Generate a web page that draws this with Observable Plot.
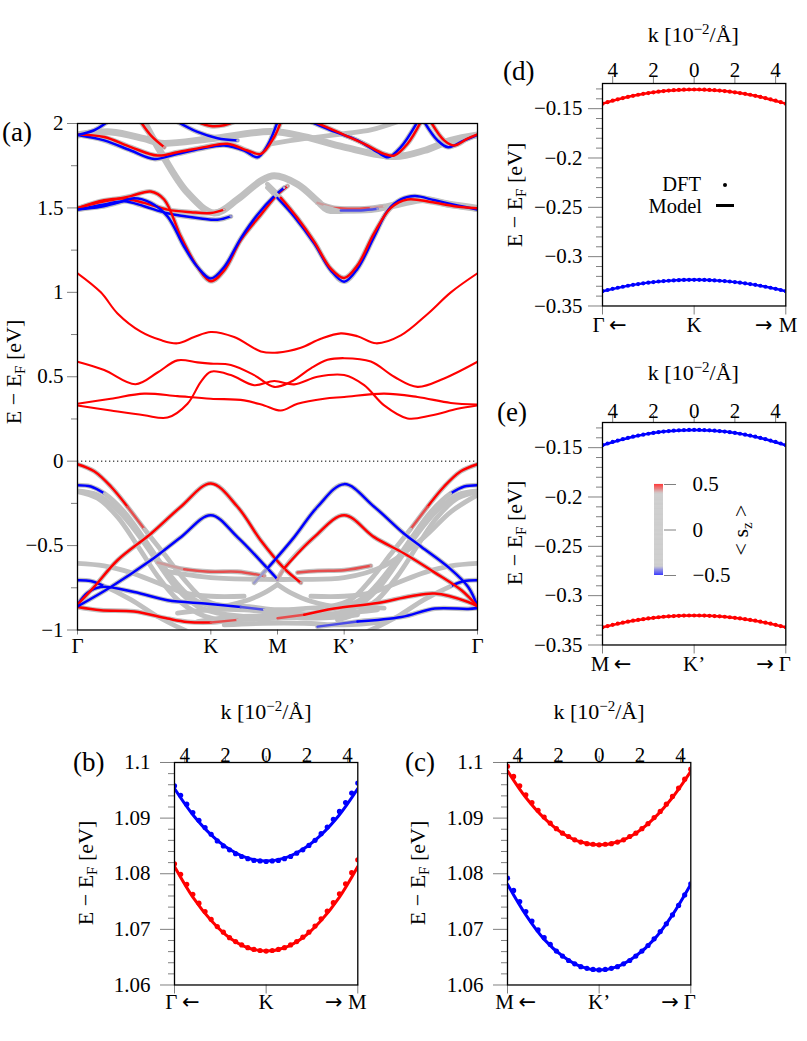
<!DOCTYPE html>
<html>
<head>
<meta charset="utf-8">
<script src="https://cdn.jsdelivr.net/npm/d3@7"></script>
<script src="https://cdn.jsdelivr.net/npm/@observablehq/plot@0.6"></script>
<style>
  body { margin: 0; background: #fff; }
  #fig { position: relative; width: 807px; height: 1041px; overflow: hidden;
         font-family: "Liberation Serif", Tinos, "Times New Roman", serif; color: #000; }
  .lbl { position: absolute; white-space: nowrap; line-height: 1; }
  .lbl sub { font-size: 0.68em; vertical-align: -0.28em; line-height: 0; }
  .lbl sup { font-size: 0.68em; vertical-align: 0.55em; line-height: 0; }
</style>
</head>
<body>
<div id="fig"></div>
<script>
// ---------- colours and shared style ----------
const RED = "#ff0000", BLUE = "#0000ff", GRAY = "#c0c0c0", TICK = "#808080";
const SERIF = '"Liberation Serif", Tinos, "Times New Roman", serif';
const ARROWS = '"DejaVu Sans", sans-serif';
const fmt = d => (d < 0 ? "\u2212" : "") + Math.abs(d);

// spin expectation value <s_z> -> colour
const spinScale = {type: "linear", domain: [-0.5, -0.4, 0.4, 0.5], range: [BLUE, GRAY, GRAY, RED]};

// ---------- (a) band structure along Γ-K-M-K'-Γ ----------
// path coordinate: Γ=0, K=2, M=3, K'=4, Γ=6
const pathTicks = [0, 2, 3, 4, 6];
const pathNames = ["Γ", "K", "M", "K’", "Γ"];
const eMajor = [-1, -0.5, 0, 0.5, 1, 1.5, 2];
const eMinor = [-0.75, -0.25, 0.25, 0.75, 1.25, 1.75];

// lowest conduction bands (spin-up, thin lines): [k, E]
const cb1 = [[0,0.330],[0.5,0.300],[1.0,0.272],[1.35,0.258],[1.65,0.340],[1.85,0.470],[2.0,0.530],[2.3,0.510],[2.65,0.450],[2.95,0.475],[3.25,0.455],[3.6,0.500],[4.0,0.510],[4.3,0.450],[4.6,0.330],[4.95,0.253],[5.3,0.270],[5.7,0.310],[6,0.330]];
const cb2 = [[0,0.340],[0.5,0.370],[1.0,0.400],[1.5,0.385],[2.0,0.370],[2.5,0.360],[2.8,0.330],[3.05,0.300],[3.3,0.340],[3.7,0.370],[4.0,0.380],[4.6,0.400],[5.1,0.380],[5.6,0.345],[6,0.335]];
const cb3 = [[0,0.589],[0.4,0.540],[0.87,0.456],[1.2,0.525],[1.5,0.597],[1.8,0.585],[2.0,0.578],[2.3,0.570],[2.65,0.510],[2.95,0.440],[3.2,0.470],[3.5,0.550],[3.75,0.600],[4.0,0.610],[4.4,0.590],[4.75,0.500],[5.1,0.440],[5.5,0.490],[6,0.589]];
const cb4 = [[0,1.113],[0.35,1.000],[0.6,0.875],[0.95,0.767],[1.25,0.717],[1.5,0.698],[1.75,0.735],[2.0,0.765],[2.35,0.735],[2.75,0.650],[3.0,0.643],[3.35,0.672],[3.65,0.725],[3.95,0.757],[4.2,0.740],[4.48,0.698],[4.85,0.745],[5.26,0.875],[5.6,1.000],[6,1.113]];

// spin-resolved bands: [k, E, <s_z>]
const vTopL = [[0,-0.018,0.5],[0.25,-0.06,0.5],[0.5,-0.15,0.5],[0.75,-0.27,0.46],[1.0,-0.40,0],[1.3,-0.55,0],[1.6,-0.70,0],[1.9,-0.82,0],[2.2,-0.86,0]];
const vTopR = [[6,-0.018,0.5],[5.75,-0.06,0.5],[5.5,-0.15,0.5],[5.25,-0.27,0.46],[5.0,-0.40,0],[4.7,-0.55,0],[4.4,-0.70,0],[4.1,-0.82,0],[3.8,-0.86,0]];
const vKred = [[0,-0.85,0.5],[0.25,-0.745,0.5],[0.6,-0.587,0.5],[1.1,-0.43,0.5],[1.55,-0.27,0.5],[2.0,-0.132,0.5],[2.4,-0.27,0.5],[2.75,-0.47,0.5],[3.1,-0.635,0.5],[3.35,-0.72,0.42]];
const vKblue = [[0,-0.86,-0.5],[0.5,-0.745,-0.5],[1.1,-0.587,-0.5],[1.55,-0.45,-0.5],[2.0,-0.32,-0.5],[2.4,-0.45,-0.5],[2.85,-0.635,-0.5],[3.0,-0.70,-0.42]];
const vKpBlue = [[2.65,-0.72,-0.42],[2.85,-0.635,-0.5],[3.25,-0.45,-0.5],[3.6,-0.27,-0.5],[4.0,-0.136,-0.5],[4.45,-0.27,-0.5],[4.9,-0.43,-0.5],[5.16,-0.508,-0.5],[5.56,-0.627,-0.5],[5.86,-0.745,-0.5],[6,-0.86,-0.5]];
const vKpRed = [[3.0,-0.70,0.42],[3.1,-0.635,0.5],[3.55,-0.45,0.5],[4.0,-0.32,0.5],[4.45,-0.45,0.5],[4.9,-0.547,0.5],[5.36,-0.66,0.5],[5.76,-0.765,0.5],[6,-0.86,0.5]];
const vGa = [[0,-0.142,-0.5],[0.2,-0.15,-0.5],[0.4,-0.19,0],[0.7,-0.30,0],[1.0,-0.46,0],[1.3,-0.63,0],[1.6,-0.77,0],[1.85,-0.84,0],[2.1,-0.86,0],[2.5,-0.83,0],[2.8,-0.78,0],[3.0,-0.73,0]];
const vGb = [[0,-0.176,0],[0.3,-0.20,0],[0.6,-0.29,0],[0.9,-0.43,0],[1.2,-0.60,0],[1.5,-0.76,0],[1.8,-0.86,0],[2.1,-0.90,0],[2.5,-0.92,0],[3.0,-0.93,0]];
const vGc = [[0,-0.18,0],[0.3,-0.22,0],[0.6,-0.33,0],[0.9,-0.50,0],[1.2,-0.68,0],[1.5,-0.82,0],[1.8,-0.90,0],[2.1,-0.94,0]];
const vGaR = [[6,-0.142,-0.5],[5.8,-0.15,-0.5],[5.6,-0.19,0],[5.3,-0.30,0],[5.0,-0.46,0],[4.7,-0.63,0],[4.4,-0.77,0],[4.15,-0.84,0],[3.9,-0.86,0],[3.5,-0.83,0],[3.2,-0.78,0],[3.0,-0.73,0]];
const vGbR = [[6,-0.176,0],[5.7,-0.20,0],[5.4,-0.29,0],[5.1,-0.43,0],[4.8,-0.60,0],[4.5,-0.76,0],[4.2,-0.86,0],[3.9,-0.90,0],[3.5,-0.92,0],[3.0,-0.93,0]];
const vGcR = [[6,-0.18,0],[5.7,-0.22,0],[5.4,-0.33,0],[5.1,-0.50,0],[4.8,-0.68,0],[4.5,-0.82,0],[4.2,-0.90,0],[3.9,-0.94,0]];
const vF1 = [[0,-0.605,0],[0.4,-0.62,0],[0.8,-0.66,0],[1.2,-0.72,0],[1.6,-0.78,0],[2.0,-0.80,0],[2.5,-0.80,0]];
const vF2 = [[1.2,-0.60,0.42],[1.6,-0.64,0.46],[2.0,-0.655,0.46],[2.4,-0.655,0.46],[2.8,-0.68,0.42]];
const vF3 = [[3.3,-0.66,0.46],[3.6,-0.65,0.46],[4.0,-0.646,0.46],[4.4,-0.62,0.42]];
const vF4 = [[1.3,-0.65,0],[2.0,-0.69,0],[2.8,-0.70,0],[3.3,-0.70,0],[4.0,-0.69,0],[4.6,-0.62,0],[5.2,-0.45,0],[5.6,-0.30,0],[6,-0.20,0]];
const vF5 = [[6,-0.605,0],[5.6,-0.62,0],[5.2,-0.66,0],[4.8,-0.72,0],[4.4,-0.78,0],[4.0,-0.80,0],[3.5,-0.80,0]];
const vG70 = [[0,-0.705,-0.5],[0.2,-0.71,-0.5],[0.4,-0.74,0],[0.8,-0.82,0],[1.2,-0.92,0],[1.6,-1.0,0],[1.9,-1.05,0]];
const vG70R = [[6,-0.705,-0.5],[5.8,-0.71,-0.5],[5.6,-0.74,0],[5.2,-0.82,0],[4.8,-0.92,0],[4.4,-1.0,0],[4.1,-1.05,0]];
const vBl1 = [[0,-0.85,-0.5],[0.15,-0.78,-0.5],[0.35,-0.745,-0.5],[0.85,-0.775,-0.5],[1.35,-0.824,-0.5],[1.95,-0.844,-0.5],[2.45,-0.864,-0.46],[2.8,-0.88,0],[3.3,-0.90,0],[3.8,-0.91,0]];
const vRd1 = [[0,-0.864,0.5],[0.35,-0.883,0.5],[0.85,-0.89,0.5],[1.35,-0.932,0.5],[1.65,-0.952,0.5],[2.0,-0.955,0.46],[2.4,-0.94,0],[3.0,-0.93,0.46],[3.4,-0.91,0.5],[3.85,-0.873,0.5],[4.5,-0.84,0.5],[5.0,-0.80,0.5],[5.36,-0.784,0.5],[5.86,-0.834,0.5],[6,-0.86,0.5]];
const vBl2 = [[3.6,-0.98,-0.46],[4.2,-0.95,-0.5],[4.86,-0.923,-0.5],[5.36,-0.873,-0.5],[5.86,-0.875,-0.5],[6,-0.87,-0.5]];
const vGd = [[1.5,-0.90,0],[2.0,-0.88,0],[2.5,-0.88,0],[3.0,-0.90,0],[3.5,-0.91,0],[4.0,-0.90,0],[4.5,-0.88,0]];
const vGe = [[1.8,-0.95,0],[2.4,-0.92,0],[3.0,-0.92,0],[3.6,-0.93,0],[4.2,-0.91,0]];
const vGg = [[2.0,-0.87,0],[2.5,-0.86,0],[3.0,-0.88,0],[3.5,-0.87,0],[4.0,-0.86,0],[4.6,-0.87,0]];
const vGh = [[2.2,-0.97,0],[2.8,-0.96,0],[3.4,-0.96,0],[4.0,-0.97,0],[4.6,-0.95,0]];

const cKred = [[0,1.498,0.5],[0.3,1.53,0.5],[0.55,1.55,0.5],[0.8,1.57,0.5],[1.1,1.597,0.5],[1.3,1.55,0.5],[1.55,1.33,0.5],[1.8,1.15,0.5],[2.0,1.066,0.5],[2.2,1.13,0.5],[2.45,1.31,0.5],[2.75,1.46,0.5],[3.0,1.58,0.5],[3.15,1.63,0]];
const cKblue = [[0,1.49,-0.5],[0.35,1.507,-0.5],[0.6,1.53,-0.5],[0.85,1.557,-0.5],[1.1,1.53,-0.5],[1.35,1.45,-0.5],[1.6,1.27,-0.5],[1.8,1.15,-0.5],[2.0,1.082,-0.5],[2.2,1.15,-0.5],[2.45,1.32,-0.5],[2.7,1.46,-0.5],[2.95,1.57,-0.5],[3.1,1.62,0]];
const cKpBlue = [[2.85,1.62,0],[3.0,1.56,-0.5],[3.25,1.45,-0.5],[3.55,1.29,-0.5],[3.8,1.13,-0.5],[4.0,1.063,-0.5],[4.2,1.14,-0.5],[4.45,1.33,-0.5],[4.66,1.488,-0.5],[4.85,1.55,-0.5],[5.06,1.57,-0.5],[5.36,1.545,-0.5],[5.7,1.515,-0.5],[6,1.49,-0.5]];
const cKpRed = [[2.85,1.64,0],[3.05,1.56,0.5],[3.3,1.44,0.5],[3.55,1.30,0.5],[3.8,1.14,0.5],[4.0,1.085,0.5],[4.2,1.16,0.5],[4.45,1.35,0.5],[4.7,1.50,0.5],[4.95,1.55,0.5],[5.3,1.535,0.5],[5.65,1.51,0.5],[6,1.498,0.5]];
const c15r = [[0,1.498,0.5],[0.4,1.545,0.5],[0.7,1.555,0.5],[1.0,1.53,0.5],[1.35,1.49,0.5],[1.7,1.475,0.5],[2.0,1.47,0.5],[2.2,1.49,0]];
const c15b = [[0,1.49,-0.5],[0.4,1.52,-0.5],[0.7,1.54,-0.5],[1.0,1.51,-0.5],[1.35,1.468,-0.5],[1.85,1.438,-0.5],[2.1,1.43,-0.5],[2.3,1.45,-0.42]];
const c15rR = [[3.6,1.53,0.42],[3.85,1.50,0.46],[4.1,1.495,0.46],[4.4,1.50,0.42],[4.6,1.51,0]];
const c15bR = [[3.7,1.51,0],[3.95,1.485,-0.46],[4.25,1.485,-0.46],[4.5,1.495,-0.42]];
const cTopB1 = [[0,1.932,-0.5],[0.4,1.90,-0.5],[0.8,1.84,-0.5],[1.15,1.79,-0.5],[1.45,1.815,-0.5],[1.85,1.85,-0.5],[2.2,1.87,-0.5],[2.5,1.84,-0.5],[2.7,1.80,-0.5],[2.85,1.87,-0.5],[3.0,2.01,-0.5]];
const cTopR1 = [[0,1.935,0.5],[0.4,1.92,0.5],[0.8,1.86,0.5],[1.2,1.81,0.5],[1.5,1.83,0.5],[1.9,1.86,0.5],[2.25,1.88,0.5],[2.55,1.84,0.5],[2.75,1.82,0.5],[2.95,1.92,0.5],[3.05,2.01,0.5]];
const cTopB2 = [[0,1.932,-0.5],[0.25,1.96,-0.5],[0.45,2.01,-0.5]];
const cTopR2 = [[0.95,2.01,0.5],[1.1,1.93,0.5],[1.3,1.86,0.42]];
const cTopR3 = [[1.8,2.01,0.5],[2.0,1.985,0.5],[2.2,1.99,0.5],[2.35,2.01,0.5]];
const cTopB3 = [[1.5,2.01,-0.5],[1.8,1.95,-0.5],[2.1,1.913,-0.5],[2.4,1.90,0]];
const cTopB4 = [[3.5,2.01,-0.5],[3.8,1.96,-0.5],[4.2,1.90,-0.5],[4.5,1.83,-0.5],[4.66,1.80,-0.5],[4.85,1.86,-0.5],[5.1,2.01,-0.5]];
const cTopR4 = [[3.55,2.01,0.5],[3.9,1.95,0.5],[4.3,1.88,0.5],[4.6,1.82,0.5],[4.75,1.81,0.5],[4.95,1.88,0.5],[5.15,2.01,0.5]];
const cTopB5 = [[5.2,2.01,-0.5],[5.4,1.90,-0.5],[5.56,1.86,-0.5],[5.8,1.90,-0.5],[6,1.932,-0.5]];
const cTopR5 = [[5.3,2.01,0.5],[5.5,1.90,0.5],[5.65,1.87,0.5],[5.85,1.91,0.5],[6,1.935,0.5]];
const cTopG = [[2.9,1.88,0],[3.4,1.91,0],[4.0,1.94,0],[4.4,1.962,0],[4.8,2.01,0]];
// broad, nearly degenerate bundles
const cThick1 = [[1.0,2.01,0],[1.25,1.83,0],[1.65,1.59,0],[2.05,1.47,0],[2.4,1.55,0],[2.75,1.66,0],[2.95,1.69,0],[3.3,1.64,0],[3.6,1.54,0],[3.75,1.49,0],[4.1,1.488,0],[4.4,1.49,0],[4.8,1.52,0],[5.2,1.55,0],[5.6,1.52,0],[6,1.498,0]];
const cThick2 = [[0,1.932,0],[0.5,1.95,0],[1.0,1.91,0],[1.25,1.883,0],[2.0,1.91,0],[2.9,1.952,0],[3.4,1.922,0],[4.0,1.86,0],[4.76,1.804,0],[5.2,1.84,0],[5.6,1.90,0],[6,1.932,0]];

const thinBands = [cb1, cb2, cb3, cb4];
const spinBands = [vTopL, vTopR, vGa, vGb, vGc, vGaR, vGbR, vGcR, vF1, vF4, vF5, vG70, vG70R, vGd, vGe, vGg, vGh, vF2, vF3,
  vBl1, vRd1, vBl2, vKred, vKblue, vKpBlue, vKpRed,
  cTopG, c15r, c15b, c15rR, c15bR, cKred, cKblue, cKpBlue, cKpRed,
  cTopB1, cTopR1, cTopB2, cTopR2, cTopR3, cTopB3, cTopB4, cTopR4, cTopB5, cTopR5];
const thickBands = [cThick1, cThick2];

// ---------- (b)-(e) zoom around the valleys ----------
const kTop = [-4, -2, 0, 2, 4];
const kDots3 = [-4.5,-4.2,-3.9,-3.6,-3.3,-3.0,-2.7,-2.4,-2.1,-1.8,-1.5,-1.2,-0.9,-0.6,-0.3,0,0.3,0.6,0.9,1.2,1.5,1.8,2.1,2.4,2.7,3.0,3.3,3.6,3.9,4.2,4.5];
const kModel3 = [-4.5,-3.6,-2.7,-1.8,-0.9,0,0.9,1.8,2.7,3.6,4.5];
// (b) conduction band at K
const bBlueDFT = [1.0958,1.0941,1.0925,1.0910,1.0896,1.0883,1.0871,1.0859,1.0850,1.0843,1.0836,1.0831,1.0827,1.0824,1.0823,1.0822,1.0823,1.0824,1.0827,1.0831,1.0837,1.0843,1.0851,1.0860,1.0872,1.0884,1.0898,1.0912,1.0928,1.0945,1.0963];
const bRedDFT = [1.0818,1.0799,1.0781,1.0763,1.0747,1.0732,1.0718,1.0705,1.0695,1.0685,1.0678,1.0672,1.0667,1.0664,1.0662,1.0661,1.0662,1.0664,1.0667,1.0672,1.0678,1.0686,1.0695,1.0706,1.0719,1.0733,1.0748,1.0764,1.0782,1.0802,1.0825];
const bBlueModel = [1.0953,1.0906,1.0870,1.0844,1.0828,1.0823,1.0828,1.0844,1.0870,1.0906,1.0953];
const bRedModel = [1.0813,1.0758,1.0716,1.0685,1.0667,1.0661,1.0667,1.0685,1.0716,1.0758,1.0813];
// (c) conduction band at K'
const cRedDFT = [1.0993,1.0975,1.0958,1.0942,1.0928,1.0914,1.0902,1.0891,1.0881,1.0873,1.0867,1.0861,1.0857,1.0854,1.0853,1.0852,1.0853,1.0854,1.0857,1.0861,1.0867,1.0873,1.0881,1.0890,1.0901,1.0912,1.0925,1.0939,1.0954,1.0970,1.0988];
const cBlueDFT = [1.0792,1.0770,1.0750,1.0732,1.0715,1.0699,1.0685,1.0673,1.0661,1.0652,1.0644,1.0638,1.0633,1.0630,1.0628,1.0627,1.0628,1.0630,1.0633,1.0638,1.0644,1.0652,1.0661,1.0671,1.0683,1.0696,1.0710,1.0726,1.0743,1.0762,1.0782];
const cRedModel = [1.0985,1.0937,1.0900,1.0873,1.0857,1.0852,1.0857,1.0873,1.0900,1.0937,1.0984];
const cBlueModel = [1.0781,1.0726,1.0682,1.0652,1.0633,1.0627,1.0633,1.0652,1.0682,1.0726,1.0781];
const condMajor = [1.06, 1.07, 1.08, 1.09, 1.1];
const condMinor = [1.062,1.064,1.066,1.068,1.072,1.074,1.076,1.078,1.082,1.084,1.086,1.088,1.092,1.094,1.096,1.098];

const kDots4 = [-4.5,-4.25,-4,-3.75,-3.5,-3.25,-3,-2.75,-2.5,-2.25,-2,-1.75,-1.5,-1.25,-1,-0.75,-0.5,-0.25,0,0.25,0.5,0.75,1,1.25,1.5,1.75,2,2.25,2.5,2.75,3,3.25,3.5,3.75,4,4.25,4.5];
const kModel4 = [-4.5,-3,-1.5,0,1.5,3,4.5];
// (d) valence band at K
const dRedDFT = [-0.1449,-0.1434,-0.1419,-0.1405,-0.1393,-0.1381,-0.1370,-0.1359,-0.1350,-0.1342,-0.1334,-0.1328,-0.1322,-0.1317,-0.1313,-0.1310,-0.1308,-0.1306,-0.1306,-0.1306,-0.1308,-0.1310,-0.1313,-0.1317,-0.1322,-0.1328,-0.1334,-0.1342,-0.1350,-0.1359,-0.1370,-0.1381,-0.1393,-0.1405,-0.1419,-0.1434,-0.1449];
const dBlueDFT = [-0.3350,-0.3338,-0.3326,-0.3315,-0.3305,-0.3295,-0.3286,-0.3278,-0.3270,-0.3264,-0.3258,-0.3252,-0.3248,-0.3244,-0.3241,-0.3238,-0.3236,-0.3235,-0.3235,-0.3235,-0.3236,-0.3238,-0.3241,-0.3244,-0.3248,-0.3252,-0.3258,-0.3264,-0.3270,-0.3278,-0.3286,-0.3295,-0.3305,-0.3315,-0.3326,-0.3338,-0.3350];
const dRedModel = [-0.1449,-0.1370,-0.1322,-0.1306,-0.1322,-0.1370,-0.1449];
const dBlueModel = [-0.3350,-0.3286,-0.3248,-0.3235,-0.3248,-0.3286,-0.3350];
// (e) valence band at K'
const eBlueDFT = [-0.1475,-0.1458,-0.1442,-0.1428,-0.1414,-0.1401,-0.1389,-0.1378,-0.1368,-0.1359,-0.1351,-0.1343,-0.1337,-0.1332,-0.1328,-0.1324,-0.1322,-0.1320,-0.1320,-0.1320,-0.1322,-0.1324,-0.1328,-0.1332,-0.1337,-0.1343,-0.1351,-0.1359,-0.1368,-0.1378,-0.1389,-0.1401,-0.1414,-0.1428,-0.1442,-0.1458,-0.1475];
const eRedDFT = [-0.3321,-0.3308,-0.3296,-0.3284,-0.3274,-0.3264,-0.3254,-0.3246,-0.3238,-0.3231,-0.3225,-0.3219,-0.3214,-0.3210,-0.3207,-0.3204,-0.3202,-0.3201,-0.3201,-0.3201,-0.3202,-0.3204,-0.3207,-0.3210,-0.3214,-0.3219,-0.3225,-0.3231,-0.3238,-0.3246,-0.3254,-0.3264,-0.3274,-0.3284,-0.3296,-0.3308,-0.3321];
const eBlueModel = [-0.1475,-0.1389,-0.1337,-0.1320,-0.1337,-0.1389,-0.1475];
const eRedModel = [-0.3321,-0.3254,-0.3214,-0.3201,-0.3214,-0.3254,-0.3321];
const valMajor = [-0.35, -0.3, -0.25, -0.2, -0.15];
const valMinor = [-0.34,-0.33,-0.32,-0.31,-0.29,-0.28,-0.27,-0.26,-0.24,-0.23,-0.22,-0.21,-0.19,-0.18,-0.17,-0.16,-0.14,-0.13];

const spinTicks = [-0.5, 0, 0.5];

// ---------- helpers ----------
const fig = document.getElementById("fig");
function place(el, left, top) {
  el.style.position = "absolute";
  el.style.left = left + "px";
  el.style.top = top + "px";
  fig.appendChild(el);
}
function label(html, x, y, size = 22, opts = {}) {
  const d = document.createElement("div");
  d.className = "lbl";
  d.innerHTML = html;
  d.style.left = x + "px";
  d.style.top = y + "px";
  d.style.fontSize = size + "px";
  if (opts.lh) d.style.lineHeight = opts.lh;
  const ax = opts.anchor === "end" ? "-100%" : opts.anchor === "start" ? "0" : "-50%";
  d.style.transform = opts.rotate ? "translate(-50%,-50%) rotate(-90deg)" : `translate(${ax},-50%)`;
  fig.appendChild(d);
  return d;
}
const zip = (ks, es) => ks.map((k, i) => ({k, e: es[i]}));

// ---------- panel (a) ----------
const thinRows = thinBands.flatMap((pts, b) => pts.map(([k, e]) => ({id: b, k, e})));
const haloRows = [], coreRows = [], thickRows = [];
spinBands.forEach((pts, b) => {
  let seg = 0;
  pts.forEach(([k, e, s], i) => {
    haloRows.push({id: b, k, e});
    if (i > 0 && s !== pts[i - 1][2]) {
      coreRows.push({id: b + "-" + seg, k, e, s: pts[i - 1][2]});
      seg++;
    }
    coreRows.push({id: b + "-" + seg, k, e, s});
  });
});
thickBands.forEach((pts, b) => pts.forEach(([k, e, s]) => thickRows.push({id: b, k, e, s})));

const A = {left: 77, top: 123, w: 400, h: 506.5};
const aM = {l: 77, r: 23, t: 23, b: 40};
const plotA = Plot.plot({
  width: aM.l + A.w + aM.r, height: aM.t + A.h + aM.b,
  marginLeft: aM.l, marginRight: aM.r, marginTop: aM.t, marginBottom: aM.b,
  x: {domain: [0, 6]}, y: {domain: [-1, 2]},
  color: spinScale,
  style: {fontFamily: SERIF, fontSize: "21px", color: "black", background: "transparent", overflow: "visible"},
  marks: [
    Plot.ruleY([0], {stroke: "black", strokeWidth: 1, strokeDasharray: "1.3,2.7"}),
    Plot.line(thickRows, {x: "k", y: "e", z: "id", stroke: GRAY, strokeWidth: 7, curve: "catmull-rom", clip: true}),
    Plot.line(haloRows, {x: "k", y: "e", z: "id", stroke: GRAY, strokeWidth: 4.8, curve: "catmull-rom", clip: true}),
    Plot.line(coreRows, {x: "k", y: "e", z: "id", stroke: "s", strokeWidth: 2.5, curve: "catmull-rom", clip: true}),
    Plot.line(thinRows, {x: "k", y: "e", z: "id", stroke: RED, strokeWidth: 2.1, curve: "catmull-rom", clip: true}),
    Plot.axisY({ticks: eMinor, tickSize: 6, tickFormat: () => "", stroke: TICK, label: null}),
    Plot.axisY({ticks: eMajor, tickSize: 10, tickPadding: 4, tickFormat: fmt, stroke: TICK, label: null, fontSize: 21}),
    Plot.axisX({ticks: pathTicks, tickSize: 5, tickFormat: () => "", stroke: TICK, label: null}),
    Plot.text(pathTicks, {x: d => d, text: (d, i) => pathNames[i], frameAnchor: "bottom", dy: 22.5, fontSize: 21}),
    Plot.frame({stroke: "black", strokeWidth: 1.3})
  ]
});
place(plotA, A.left - aM.l, A.top - aM.t);
label("(a)", 2, 132, 27, {anchor: "start"});
label("E − E<sub>F</sub> [eV]", 14, 372, 22, {rotate: true});

// ---------- panels (b)-(e) ----------
// bottom path labels: [name, dx of name, dx of arrow] for the left and right ends
function endLabels(x, cfg, side) {
  const [name, dxName, dxArrow] = cfg[side];
  const anchor = side === "left" ? "start" : "end";
  const arrow = side === "left" ? "←" : "→";
  return [
    Plot.text([x], {x: d => d, text: () => name, frameAnchor: "bottom", dy: cfg.botDy, dx: dxName, textAnchor: anchor, fontSize: 21}),
    Plot.text([x], {x: d => d, text: () => arrow, frameAnchor: "bottom", dy: cfg.botDy, dx: dxArrow, textAnchor: anchor, fontSize: 21, fontFamily: ARROWS})
  ];
}
function smallPanel(cfg) {
  const W = 183.3, H = 222.5, mL = 80, mR = 30, mT = 32, mB = 40;
  const marks = [
    ...cfg.lines.map(s => Plot.line(s.rows, {x: "k", y: "e", stroke: s.color, strokeWidth: cfg.lw, curve: "catmull-rom", clip: true})),
    ...cfg.dots.map(s => Plot.dot(s.rows, {x: "k", y: "e", fill: s.color, r: cfg.r, clip: true})),
    Plot.axisY({ticks: cfg.minor, tickSize: 6, tickFormat: () => "", stroke: TICK, label: null}),
    Plot.axisY({ticks: cfg.major, tickSize: 14, tickPadding: cfg.yPad, tickFormat: cfg.fmt, stroke: TICK, label: null, fontSize: 21}),
    Plot.axisX({anchor: "top", ticks: kTop, tickSize: cfg.topTick, tickFormat: () => "", stroke: TICK, label: null}),
    Plot.text(kTop, {x: d => d, text: d => Math.abs(d), frameAnchor: "top", dy: -cfg.topDy, fontSize: 21}),
    Plot.axisX({anchor: "bottom", ticks: [-4.5, 0, 4.5], tickSize: 9, tickFormat: () => "", stroke: TICK, label: null}),
    ...endLabels(-4.5, cfg, "left"),
    Plot.text([0], {x: d => d, text: () => cfg.mid, frameAnchor: "bottom", dy: cfg.botDy, fontSize: 21}),
    ...endLabels(4.5, cfg, "right"),
    Plot.frame({stroke: "black", strokeWidth: 1.3})
  ];
  const svg = Plot.plot({
    width: mL + W + mR, height: mT + H + mB,
    marginLeft: mL, marginRight: mR, marginTop: mT, marginBottom: mB,
    x: {domain: [-4.5, 4.5]}, y: {domain: cfg.yDomain},
    style: {fontFamily: SERIF, fontSize: "21px", color: "black", background: "transparent", overflow: "visible"},
    marks
  });
  place(svg, cfg.fx - mL, cfg.fy - mT);
  const cx = cfg.fx + W / 2;
  label("k [10<sup>−2</sup>/Å]", cx, cfg.fy - cfg.titleDy, 22);
  label("E − E<sub>F</sub> [eV]", cfg.ylx, cfg.fy + H / 2, 22, {rotate: true});
  label(cfg.tag, cfg.tagX, cfg.tagY, 27, {anchor: "start"});
}

const condCfg = {yDomain: [1.06, 1.1], major: condMajor, minor: condMinor, fmt: d => String(d), yPad: 10,
  topTick: 7, topDy: 15, botDy: 24.5, titleDy: 50, lw: 3, r: 2.6};
smallPanel({...condCfg, fx: 174.3, fy: 761.7, ylx: 86, tag: "(b)", tagX: 73, tagY: 762,
  left: ["Γ", -9.3, 7.4], mid: "K", right: ["M", 9, -15.3],
  lines: [{rows: zip(kModel3, bBlueModel), color: BLUE}, {rows: zip(kModel3, bRedModel), color: RED}],
  dots: [{rows: zip(kDots3, bBlueDFT), color: BLUE}, {rows: zip(kDots3, bRedDFT), color: RED}]});
smallPanel({...condCfg, fx: 507.3, fy: 761.7, ylx: 418, tag: "(c)", tagX: 405, tagY: 762,
  left: ["M", -12.3, 11], mid: "K’", right: ["Γ", 5, -12],
  lines: [{rows: zip(kModel3, cRedModel), color: RED}, {rows: zip(kModel3, cBlueModel), color: BLUE}],
  dots: [{rows: zip(kDots3, cRedDFT), color: RED}, {rows: zip(kDots3, cBlueDFT), color: BLUE}]});

const valCfg = {yDomain: [-0.35, -0.1245], major: valMajor, minor: valMinor, fmt, yPad: 6,
  topTick: 8, botDy: 26.5, lw: 2.5, r: 2.1};
smallPanel({...valCfg, fx: 601.7, fy: 83.3, topDy: 21.6, titleDy: 48.5, ylx: 515, tag: "(d)", tagX: 503, tagY: 71,
  left: ["Γ", -10, 6.6], mid: "K", right: ["M", 11.7, -13.3],
  lines: [{rows: zip(kModel4, dRedModel), color: RED}, {rows: zip(kModel4, dBlueModel), color: BLUE}],
  dots: [{rows: zip(kDots4, dRedDFT), color: RED}, {rows: zip(kDots4, dBlueDFT), color: BLUE}]});
smallPanel({...valCfg, fx: 601.7, fy: 421.7, topDy: 19.5, titleDy: 48.5, ylx: 515, tag: "(e)", tagX: 497, tagY: 412,
  left: ["M", -11.7, 11.3], mid: "K’", right: ["Γ", 5, -12],
  lines: [{rows: zip(kModel4, eBlueModel), color: BLUE}, {rows: zip(kModel4, eRedModel), color: RED}],
  dots: [{rows: zip(kDots4, eBlueDFT), color: BLUE}, {rows: zip(kDots4, eRedDFT), color: RED}]});

// legend of (d): DFT points vs model curve
label("DFT", 701, 184, 20.5, {anchor: "end", lh: "0.9"});
label("Model", 702, 206, 20.5, {anchor: "end", lh: "0.9"});
const dotKey = document.createElement("div");
Object.assign(dotKey.style, {width: "4.4px", height: "4.4px", borderRadius: "50%", background: "#000"});
place(dotKey, 722.8, 182.8);
const lineKey = document.createElement("div");
Object.assign(lineKey.style, {width: "18px", height: "2.6px", background: "#000"});
place(lineKey, 716, 204.2);

// colour bar for <s_z> inside (e)
const barSteps = d3.range(-0.5, 0.5, 0.005);
const bar = Plot.plot({
  width: 9 + 80, height: 91 + 20, marginLeft: 0, marginRight: 80, marginTop: 10, marginBottom: 10,
  x: {domain: [0, 1], axis: null}, y: {domain: [-0.5, 0.5]},
  color: spinScale,
  style: {fontFamily: SERIF, fontSize: "21px", color: "black", background: "transparent", overflow: "visible"},
  marks: [
    Plot.rect(barSteps, {x1: 0, x2: 1, y1: d => d, y2: d => d + 0.0056, fill: d => d + 0.0025}),
    Plot.axisY({anchor: "right", ticks: spinTicks, tickSize: 12, tickPadding: 17, tickFormat: fmt, stroke: TICK, label: null, fontSize: 21})
  ]
});
place(bar, 654.3, 474);
label("&lt; s<sub>z</sub> &gt;", 741, 530, 22, {rotate: true});
</script>
</body>
</html>
